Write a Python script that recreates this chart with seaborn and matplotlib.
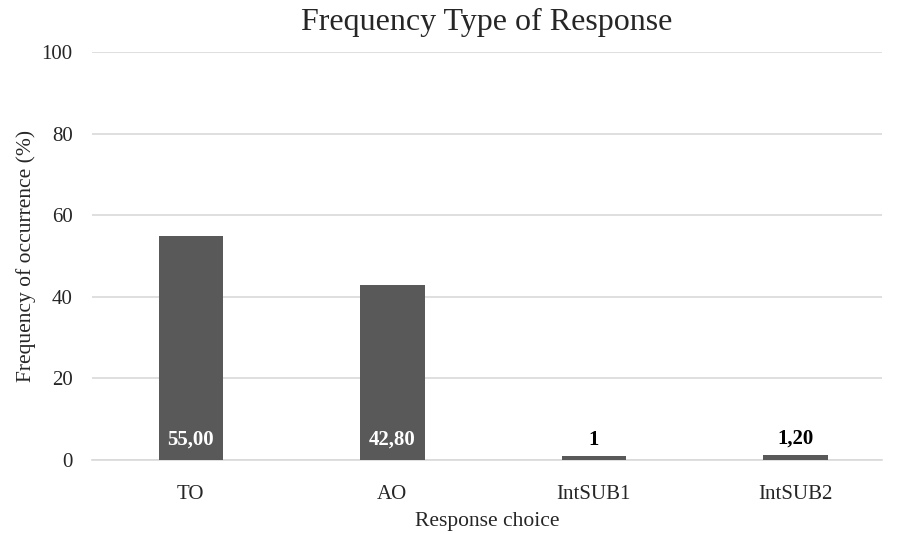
import matplotlib
matplotlib.use("Agg")
import matplotlib.pyplot as plt
import seaborn as sns
import pandas as pd

categories = ["TO", "AO", "IntSUB1", "IntSUB2"]
values = [55.0, 42.8, 1.0, 1.2]
value_labels = ["55,00", "42,80", "1", "1,20"]
y_ticks = [0, 20, 40, 60, 80, 100]

sns.set_style("white")
plt.rcParams['font.family'] = ['Liberation Serif', 'DejaVu Serif']

df = pd.DataFrame({"cat": categories, "val": values})

fig = plt.figure(figsize=(8.97, 5.34), dpi=100)
ax = fig.add_axes([92/897, 1-460/534, (882-92)/897, (460-52)/534])
sns.barplot(data=df, x="cat", y="val", color="#595959", saturation=1, width=0.32,
            linewidth=0, ax=ax, zorder=3)
ax.set_ylim(0, 100)
ax.set_xlim(-0.49, 3.43)
ax.set_yticks(y_ticks)
ax.yaxis.grid(True, color="#d9d9d9", linewidth=1.2, zorder=0)
ax.set_axisbelow(True)
for s in ["top", "right", "left"]:
    ax.spines[s].set_visible(False)
ax.spines["bottom"].set_color("#d9d9d9")
ax.spines["bottom"].set_linewidth(1.2)
ax.tick_params(axis="both", length=0, labelsize=15, colors="#262626")
ax.tick_params(axis="y", pad=14)
ax.tick_params(axis="x", pad=18)
ax.set_xlabel("Response choice", fontsize=15.5, color="#262626", labelpad=6)
ax.set_ylabel("Frequency of occurrence (%)", fontsize=15.5, color="#262626", labelpad=4)
ax.set_title("Frequency Type of Response", fontsize=23, color="#262626", pad=16)

for i, (v, lab) in enumerate(zip(values, value_labels)):
    if v > 10:
        ax.text(i, 2.5, lab, ha="center", va="bottom", color="white", fontsize=15, fontweight="bold", zorder=4)
    else:
        ax.text(i, v + 1.5, lab, ha="center", va="bottom", color="black", fontsize=15, fontweight="bold", zorder=4)

fig.savefig("out.png", dpi=100)
